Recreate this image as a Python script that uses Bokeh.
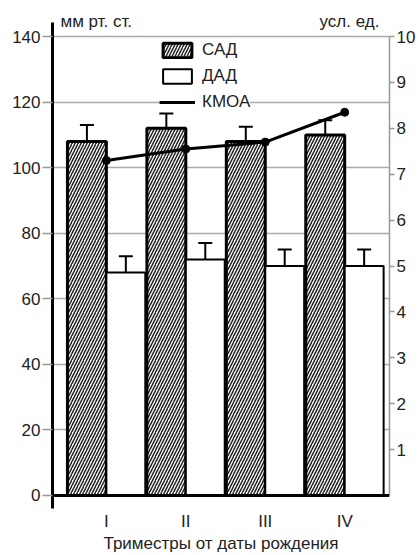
from bokeh.plotting import figure
from bokeh.models import (Range1d, LinearAxis, FixedTicker, ColumnDataSource, Whisker,
                          TeeHead, Span, Legend, LegendItem, Label)
from bokeh.embed import file_html
from bokeh.resources import INLINE

# ---- data ----
categories = ["I", "II", "III", "IV"]
sad = [108, 112, 108, 110]          # САД, мм рт. ст.
sad_err = [5, 4.5, 4.5, 4.5]
dad = [68, 72, 70, 70]              # ДАД, мм рт. ст.
dad_err = [5, 5, 5, 5]
kmoa = [7.3, 7.55, 7.7, 8.35]       # КМОА, усл. ед.
left_ticks = [0, 20, 40, 60, 80, 100, 120, 140]
right_ticks = [1, 2, 3, 4, 5, 6, 7, 8, 9, 10]

FONT = "Liberation Sans"
TXT = "#222222"
FS = "17px"

xc = [i + 1 for i in range(len(categories))]
off = 0.245
bw = 0.49

Y0, Y1 = -3.97, 149.47
p = figure(width=418, height=555, output_backend="svg", toolbar_location=None,
           x_range=Range1d(0.322, 4.564), y_range=Range1d(Y0, Y1),
           min_border_left=52, min_border_right=28, min_border_top=5, min_border_bottom=47)
p.extra_y_ranges = {"right": Range1d(Y0 / 14, Y1 / 14)}
p.outline_line_color = None
p.background_fill_color = "white"

# grid
p.xgrid.visible = False
p.ygrid.ticker = FixedTicker(ticks=left_ticks[1:])
p.ygrid.grid_line_color = "#aaaaaa"
p.ygrid.grid_line_width = 1.5

# left axis
ya = p.yaxis[0]
ya.ticker = FixedTicker(ticks=left_ticks)
ya.bounds = (-3.97, 144.27)
ya.axis_line_color = "black"
ya.axis_line_width = 3
ya.major_tick_out = 10
ya.major_tick_in = 0
ya.major_tick_line_color = "#999999"
ya.major_tick_line_width = 1.5
ya.minor_tick_line_color = None
ya.major_label_standoff = 2
ya.major_label_text_font = FONT
ya.major_label_text_font_size = FS
ya.major_label_text_color = TXT

# bottom axis
xa = p.xaxis[0]
xa.ticker = FixedTicker(ticks=xc)
xa.major_label_overrides = {x: c for x, c in zip(xc, categories)}
xa.axis_line_color = None
xa.major_tick_line_color = None
xa.major_tick_out = 0
xa.major_tick_in = 0
xa.minor_tick_line_color = None
xa.major_label_standoff = 3
xa.major_label_text_font = FONT
xa.major_label_text_font_size = FS
xa.major_label_text_color = TXT
xa.axis_label = "Триместры от даты рождения"
xa.axis_label_standoff = 0
xa.axis_label_text_font = FONT
xa.axis_label_text_font_size = FS
xa.axis_label_text_font_style = "normal"
xa.axis_label_text_color = TXT

# right axis
ra = LinearAxis(y_range_name="right", ticker=FixedTicker(ticks=right_ticks), bounds=(0, 10))
ra.axis_line_color = "#999999"
ra.axis_line_width = 1.5
ra.major_tick_out = 5
ra.major_tick_in = 0
ra.major_tick_line_color = "#999999"
ra.major_tick_line_width = 1.5
ra.minor_tick_line_color = None
ra.major_label_standoff = 2
ra.major_label_text_font = FONT
ra.major_label_text_font_size = FS
ra.major_label_text_color = TXT
p.add_layout(ra, "right")

# bars
src = ColumnDataSource(dict(
    xs=[x - off for x in xc], xd=[x + off for x in xc],
    sad=sad, dad=dad,
    sad_up=[v + e for v, e in zip(sad, sad_err)], sad_lo=[v - e for v, e in zip(sad, sad_err)],
    dad_up=[v + e for v, e in zip(dad, dad_err)], dad_lo=[v - e for v, e in zip(dad, dad_err)],
))
r_sad = p.vbar(x="xs", top="sad", bottom=0, width=bw, source=src, fill_color="white",
               line_color="black", line_width=3, hatch_pattern="/", hatch_color="#222222",
               hatch_scale=6, hatch_weight=1.5)
r_dad = p.vbar(x="xd", top="dad", bottom=0, width=bw, source=src, fill_color="white",
               line_color="black", line_width=2)

for base, up, lo in (("xs", "sad_up", "sad_lo"), ("xd", "dad_up", "dad_lo")):
    w = Whisker(source=src, base=base, upper=up, lower=lo, line_color="black", line_width=2,
                upper_head=TeeHead(size=14, line_width=2, line_color="black"),
                lower_head=TeeHead(size=14, line_width=2, line_color="black"))
    p.add_layout(w)

p.add_layout(Span(location=0, dimension="width", line_color="black", line_width=3))

r_k = p.line(xc, kmoa, y_range_name="right", line_color="black", line_width=3)
p.scatter(xc, kmoa, y_range_name="right", size=8, color="black")

legend = Legend(items=[LegendItem(label="САД", renderers=[r_sad]),
                       LegendItem(label="ДАД", renderers=[r_dad]),
                       LegendItem(label="КМОА", renderers=[r_k])],
                location=(107, 396), orientation="vertical")
legend.margin = 0
legend.padding = 8
legend.spacing = 6
legend.glyph_width = 36
legend.glyph_height = 18
legend.label_standoff = 7
legend.label_text_font = FONT
legend.label_text_font_size = FS
legend.label_text_color = TXT
legend.label_height = 18
legend.background_fill_color = "white"
legend.background_fill_alpha = 1
legend.border_line_color = None
p.add_layout(legend)

p.add_layout(Label(x=0.422, y=144.5, text="мм рт. ст.",
                   text_font=FONT, text_font_size=FS, text_color=TXT, text_baseline="middle"))
p.add_layout(Label(x=4.437, y=144.5, text="усл. ед.",
                   text_font=FONT, text_font_size=FS, text_color=TXT, text_baseline="middle",
                   text_align="right"))

open("out.html", "w").write(file_html(p, INLINE))
